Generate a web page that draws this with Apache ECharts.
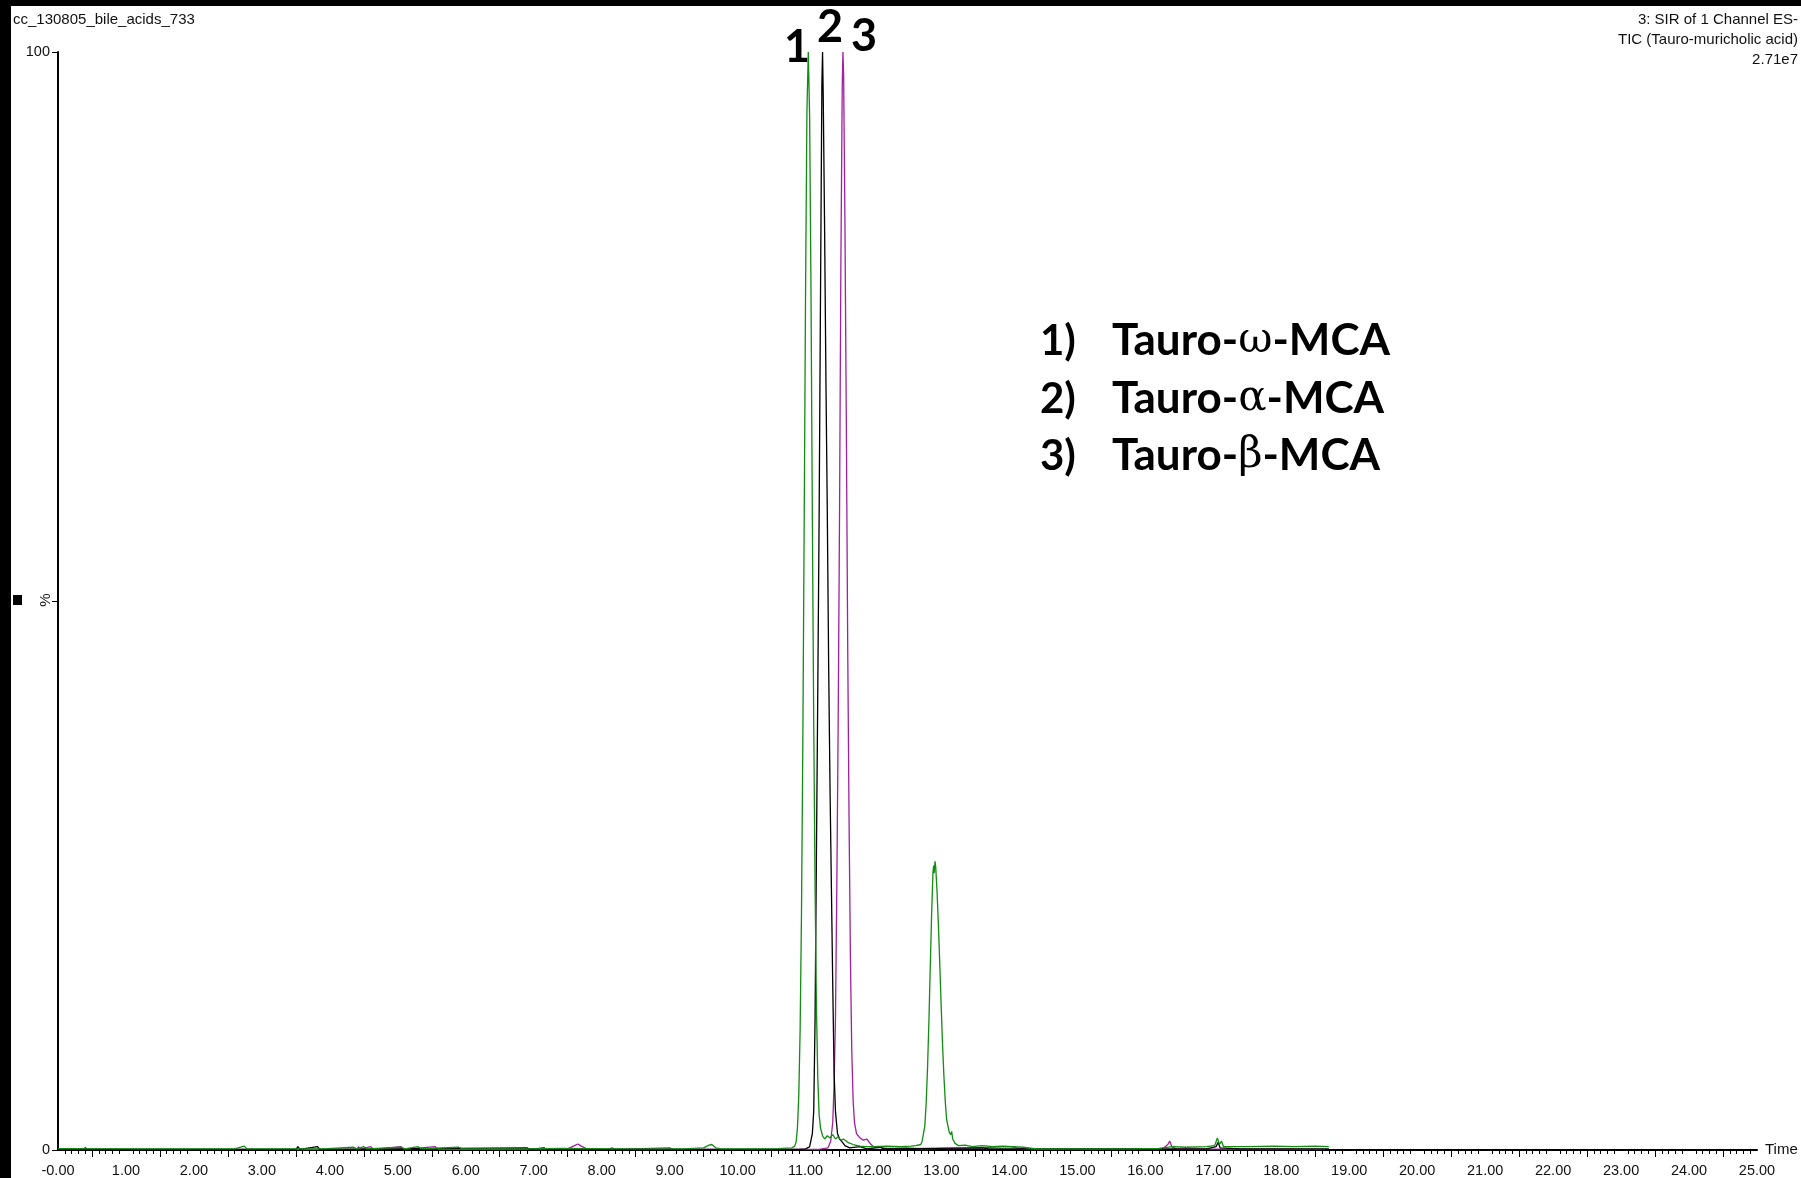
<!DOCTYPE html>
<html>
<head>
<meta charset="utf-8">
<script src="https://cdn.jsdelivr.net/npm/echarts@6/dist/echarts.min.js"></script>
<style>
html,body{margin:0;padding:0;background:#fff;}
#chart{width:1801px;height:1178px;}
</style>
</head>
<body>
<div id="chart"></div>
<script>
// ---- data (time in min, intensity in % of 2.71e7) ----
const green = [[0.00,0.12],[1.20,0.10],[2.60,0.10],[2.74,0.35],[2.78,0.10],[3.90,0.10],[4.35,0.25],[4.40,0.10],[4.50,0.30],[4.55,0.10],[5.05,0.25],[5.10,0.10],[5.30,0.30],[5.35,0.10],[5.90,0.25],[5.95,0.10],[6.90,0.10],[7.40,0.15],[8.30,0.10],[9.20,0.10],[9.50,0.20],[9.58,0.45],[9.62,0.50],[9.68,0.20],[9.75,0.10],[10.30,0.10],[10.60,0.12],[10.80,0.20],[10.84,0.35],[10.86,0.7],[10.88,1.95],[10.90,4.9],[10.92,10.9],[10.94,21.5],[10.96,37.3],[10.98,57.5],[11.00,78.2],[11.02,94.5],[11.04,100],[11.06,94.0],[11.08,78.2],[11.10,57.5],[11.12,39.0],[11.14,24.0],[11.16,13.0],[11.18,6.5],[11.20,3.2],[11.22,2.0],[11.25,1.3],[11.28,1.0],[11.32,1.3],[11.36,1.1],[11.40,1.4],[11.44,1.0],[11.48,1.2],[11.52,0.9],[11.56,1.0],[11.62,0.7],[11.70,0.5],[11.80,0.35],[11.90,0.30],[12.00,0.30],[12.20,0.35],[12.40,0.30],[12.55,0.35],[12.62,0.40],[12.695,0.5],[12.715,0.8],[12.735,1.5],[12.755,2.2],[12.775,4.3],[12.795,7.5],[12.815,11.7],[12.835,16.7],[12.855,21.5],[12.875,25.3],[12.885,25.9],[12.893,25.2],[12.905,26.3],[12.915,25.8],[12.935,23.5],[12.955,20.5],[12.975,16.9],[12.995,13.2],[13.015,9.7],[13.035,6.8],[13.055,4.5],[13.075,2.8],[13.095,2.2],[13.115,1.6],[13.135,1.4],[13.150,1.7],[13.165,1.0],[13.20,0.6],[13.25,0.4],[13.35,0.45],[13.45,0.30],[13.60,0.40],[13.75,0.30],[13.90,0.35],[14.05,0.30],[14.20,0.25],[14.40,0.10],[15.00,0.10],[15.80,0.10],[16.20,0.15],[16.40,0.30],[16.60,0.25],[16.90,0.30],[17.02,0.40],[17.06,1.10],[17.09,0.50],[17.12,0.80],[17.15,0.30],[17.50,0.30],[17.90,0.35],[18.20,0.30],[18.50,0.35],[18.70,0.30]];

const black = [[0.00,0.05],[3.50,0.05],[3.53,0.30],[3.56,0.05],[3.82,0.30],[3.85,0.05],[6.90,0.20],[6.95,0.05],[7.15,0.20],[7.20,0.05],[10.90,0.05],[11.00,0.10],[11.06,0.30],[11.10,1.5],[11.12,3.5],[11.14,12],[11.16,27],[11.18,42],[11.20,58],[11.22,78],[11.24,97],[11.25,100],[11.26,96],[11.28,84],[11.30,70],[11.32,58],[11.34,44],[11.36,33],[11.38,24],[11.40,15],[11.42,7],[11.44,3.5],[11.47,1.5],[11.50,1.0],[11.53,0.8],[11.58,0.4],[11.65,0.2],[11.80,0.30],[11.90,0.10],[12.10,0.25],[12.15,0.10],[13.60,0.20],[13.70,0.10],[16.90,0.10],[17.04,0.30],[17.07,0.70],[17.10,0.20],[17.40,0.10],[18.70,0.10]];

const magenta = [[0.00,0.05],[0.38,0.05],[0.40,0.25],[0.43,0.05],[4.40,0.05],[4.42,0.30],[4.45,0.05],[4.60,0.30],[4.65,0.05],[5.05,0.30],[5.10,0.05],[5.55,0.30],[5.60,0.05],[7.50,0.10],[7.60,0.40],[7.65,0.55],[7.70,0.35],[7.78,0.10],[8.10,0.05],[8.15,0.20],[8.20,0.05],[9.00,0.20],[9.05,0.05],[11.20,0.05],[11.33,0.2],[11.37,0.8],[11.40,2.5],[11.42,6],[11.44,12],[11.46,24],[11.48,39],[11.50,58],[11.52,81],[11.54,97],[11.55,100],[11.56,98],[11.58,84],[11.60,66],[11.62,46],[11.64,30],[11.66,17.5],[11.68,9],[11.70,4.5],[11.72,2.5],[11.75,1.5],[11.80,1.1],[11.85,0.9],[11.90,1.0],[11.95,0.6],[12.00,0.30],[12.20,0.15],[12.50,0.20],[12.70,0.10],[13.00,0.15],[13.50,0.20],[14.00,0.30],[14.15,0.15],[14.30,0.05],[16.25,0.10],[16.33,0.50],[16.36,0.80],[16.39,0.30],[16.45,0.10],[18.65,0.05]];

const halfTicks = [0.5,1.5,2.5,3.5,4.5,5.5,6.5,7.5,8.5,9.5,10.5,11.5,12.5,13.5,14.5,15.5,16.5,17.5,18.5,19.5,20.5,21.5,22.5,23.5,24.5];
const fileName = 'cc_130805_bile_acids_733';
const headerLines = ['3: SIR of 1 Channel ES-', 'TIC (Tauro-muricholic acid)', '2.71e7'];
const yName = '%';
const peakLabels = ['1', '2', '3'];
const legendNums = ['1)', '2)', '3)'];
const legendNames = ['Tauro-{g|ω}-MCA', 'Tauro-{g|α}-MCA', 'Tauro-{g|β}-MCA'];

// ---- chart ----
const chart = echarts.init(document.getElementById('chart'), null, {renderer: 'canvas'});
const FONT = 'Liberation Sans, Arial, sans-serif';
const BOLD = 'Lato, Noto Sans, sans-serif';
const TXT = '#111';

function mkSeries(name, data, color) {
  return {
    name: name, type: 'line', data: data, showSymbol: false, symbol: 'none',
    clip: false, animation: false, smooth: false,
    lineStyle: {color: color, width: 1.3}, z: 2
  };
}

const peakPos = [[797, 47], [830, 27], [864, 36]];
const legendY = [341, 399, 456];

const graphics = [
  {type: 'rect', shape: {x: 0, y: 0, width: 11, height: 1178}, style: {fill: '#000'}, z: 100},
  {type: 'rect', shape: {x: 0, y: 0, width: 1801, height: 6}, style: {fill: '#000'}, z: 100},
  {type: 'rect', shape: {x: 13, y: 595, width: 9, height: 10}, style: {fill: '#000'}},
  {type: 'text', x: 46, y: 600, rotation: Math.PI / 2,
    style: {text: yName, font: '15px ' + FONT, fill: TXT, textAlign: 'center', textVerticalAlign: 'middle'}},
  {type: 'text', x: 13, y: 20, style: {text: fileName, font: '15px ' + FONT, fill: TXT, textVerticalAlign: 'middle'}},
  {type: 'text', x: 1798, y: 10, style: {text: headerLines.join('\n'), font: '15px ' + FONT, fill: TXT, textAlign: 'right', lineHeight: 20}}
];
peakLabels.forEach((t, i) => {
  graphics.push({type: 'text', x: peakPos[i][0], y: peakPos[i][1],
    style: {text: t, font: 'bold 45px ' + BOLD, fill: '#000', textAlign: 'center', textVerticalAlign: 'middle'}});
});
legendNums.forEach((t, i) => {
  graphics.push({type: 'text', x: 1040, y: legendY[i],
    style: {text: t, font: 'bold 42px ' + BOLD, fill: '#000', textVerticalAlign: 'middle'}});
  graphics.push({type: 'text', x: 1112, y: legendY[i],
    style: {text: legendNames[i], font: 'bold 44px ' + BOLD, fill: '#000', textVerticalAlign: 'middle',
      rich: {g: {fontFamily: 'DejaVu Serif', fontWeight: 'normal', fontSize: 42, fill: '#000'}}}});
});

const option = {
  backgroundColor: '#fff',
  animation: false,
  grid: {left: 58, right: 44, top: 52, bottom: 28, containLabel: false, outerBoundsMode: 'none'},
  xAxis: {
    type: 'value', min: 0, max: 25, interval: 1,
    name: 'Time', nameLocation: 'end', nameGap: 8,
    nameTextStyle: {fontFamily: FONT, fontSize: 15, color: TXT, verticalAlign: 'middle'},
    axisLine: {show: true, lineStyle: {color: '#000', width: 2}},
    axisTick: {show: true, inside: false, length: 7, customValues: halfTicks, lineStyle: {color: '#000', width: 1}},
    minorTick: {show: true, splitNumber: 10, length: 4, lineStyle: {color: '#000', width: 1}},
    axisLabel: {show: true, margin: 13, fontFamily: FONT, fontSize: 14.5, color: TXT,
      formatter: v => v === 0 ? '-0.00' : v.toFixed(2)},
    splitLine: {show: false}, minorSplitLine: {show: false}
  },
  yAxis: {
    type: 'value', min: 0, max: 100, interval: 50,
    axisLine: {show: true, lineStyle: {color: '#000', width: 2}},
    axisTick: {show: true, inside: false, length: 6, lineStyle: {color: '#000', width: 1}},
    axisLabel: {show: true, margin: 8, fontFamily: FONT, fontSize: 14.5, color: TXT,
      formatter: v => v === 50 ? '' : String(v)},
    splitLine: {show: false}
  },
  series: [
    mkSeries('magenta', magenta, '#a0209f'),
    mkSeries('black', black, '#000000'),
    mkSeries('green', green, '#128c12')
  ],
  graphic: graphics
};
chart.setOption(option);
</script>
</body>
</html>
